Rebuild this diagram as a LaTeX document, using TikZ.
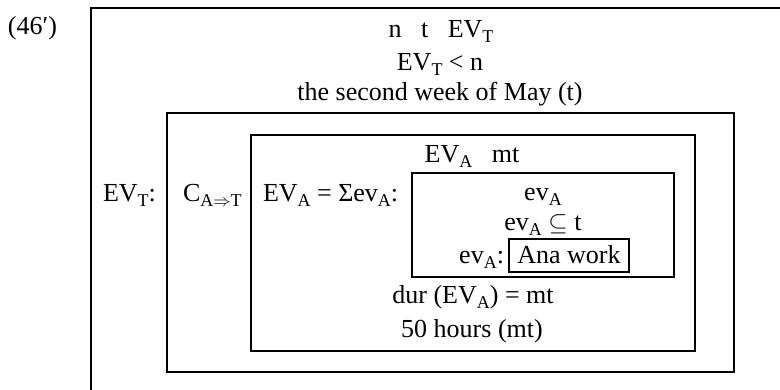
\documentclass[tikz,border=0pt]{standalone}
\usepackage{fontspec}
\setmainfont{Liberation Serif}
\newcommand\sbs[1]{\raisebox{-0.2em}{\fontsize{18}{18}\selectfont #1}}
\begin{document}
\begin{tikzpicture}[x=1pt,y=-1pt,
  txt/.style={inner sep=0pt,outer sep=0pt,font=\fontsize{26}{30}\selectfont},
  boxn/.style={draw,line width=2pt,inner sep=0pt}]
\useasboundingbox (0,0) rectangle (780,389);
\clip (0,0) rectangle (780,389);
% boxes
\node[boxn,minimum width=720,minimum height=420] (b1) at (451,218) {};
\node[boxn,minimum width=567,minimum height=259] (b2) at (450.5,242.5) {};
\node[boxn,minimum width=444,minimum height=216] (b3) at (473,243) {};
\node[boxn,minimum width=262,minimum height=104] (b4) at (543,225) {};
\node[boxn,minimum width=120,minimum height=33] (b5) at (569,255.5) {};
% texts
\node[txt,anchor=base west] (lab) at (8,34) {(46′)};
\node[txt,anchor=base] (t1) at (441,37) {n\ \ \ t\ \ \ EV\sbs{T}};
\node[txt,anchor=base] (t2) at (440,70) {EV\sbs{T} < n};
\node[txt,anchor=base] (t3) at (440,100) {the second week of May (t)};
\node[txt,anchor=base west] (evt) at (103,201) {EV\sbs{T}:};
\node[txt,anchor=base west] (cat) at (183,201) {C\sbs{A$\Rightarrow$T}};
\node[txt,anchor=base west] (eva) at (263,201) {EV\sbs{A} = Σev\sbs{A}:};
\node[txt,anchor=base] (evmt) at (472,162) {EV\sbs{A}\ \ \ mt};
\node[txt,anchor=base] (ev1) at (543,200) {ev\sbs{A}};
\node[txt,anchor=base] (ev2) at (543,230) {ev\sbs{A} $\subseteq$ t};
\node[txt,anchor=base east] (ev3) at (504,263) {ev\sbs{A}:};
\node[txt,anchor=base] (ana) at (569,263) {Ana work};
\node[txt,anchor=base] (dur) at (473,303) {dur (EV\sbs{A}) = mt};
\node[txt,anchor=base] (fifty) at (472,337) {50 hours (mt)};
\end{tikzpicture}
\end{document}
